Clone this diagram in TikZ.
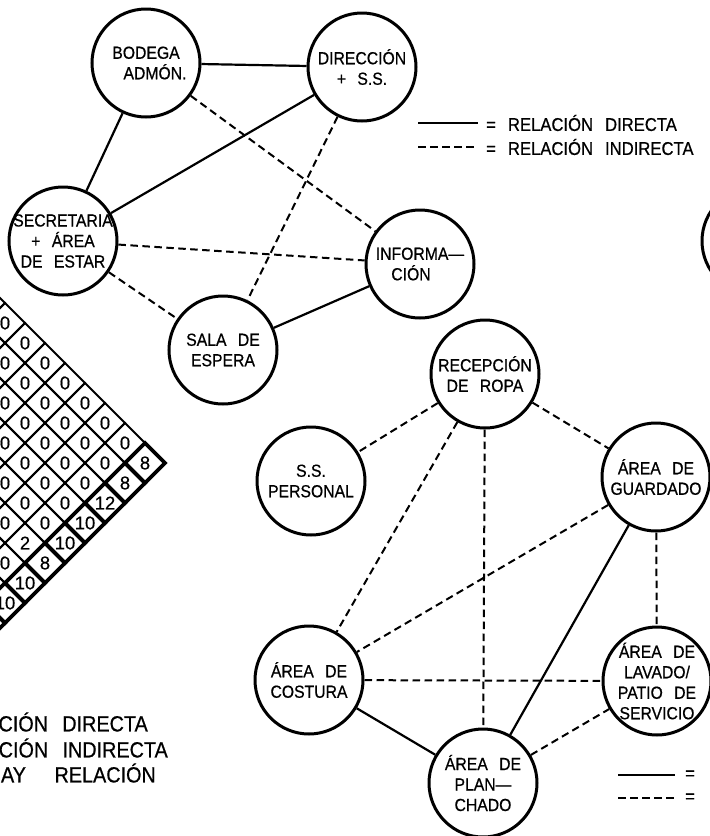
\documentclass[tikz,border=0pt]{standalone}
\usepackage{fontspec}
\setmainfont{Liberation Sans}[FakeStretch=0.9,WordSpace=2.6,FakeBold=0.6]
\newfontfamily\numfont{Liberation Sans}[FakeBold=0.4]
\usetikzlibrary{positioning}
\tikzset{
  % room circle, the name sits in a label so the circle keeps its size
  room/.style={circle, draw, line width=3pt, minimum size=108pt, inner sep=0pt,
               label={[roomtext]center:{#1}}},
  room/.default={},
  % room name
  roomtext/.style={align=center, inner sep=0pt, font=\fontsize{17.5}{20.5}\selectfont},
  % direct relation
  direct/.style={line width=2.2pt},
  % indirect relation
  indirect/.style={line width=2pt, dash pattern=on 7.5pt off 4.5pt},
  % legend text
  keytext/.style={inner sep=0pt, font=\fontsize{18.5}{20}\selectfont},
  bigkeytext/.style={inner sep=0pt, font=\fontsize{22}{24}\selectfont},
  % matrix cells
  cell/.style={line width=1.9pt},
  sumcell/.style={line width=3.6pt},
  cellnum/.style={inner sep=0pt, font=\numfont\fontsize{18.5}{18.5}\selectfont},
}

\begin{document}
\begin{tikzpicture}[x=1pt, y=-1pt]
  \useasboundingbox (0,0) rectangle (710,836);
  \clip (0,0) rectangle (710,836);

  % administration group
  \node[room={BODEGA\\\hspace*{18pt}ADMÓN.}] (bodega) at (146,63) {};
  \node[room={DIRECCIÓN\\+ S.S.}] (direccion) at (362,67) {};
  \node[room={SECRETARIA\\+ ÁREA\\DE ESTAR}] (secretaria) at (63,241) {};
  \node[room={INFORMA---\\CIÓN\hspace*{18pt}}] (informacion) at (420,264) {};
  \node[room={SALA DE\\ESPERA}] (sala) at (223,350) {};
  \node[room] (otro) at (756,241) {};

  \draw[direct] (bodega) -- (direccion);
  \draw[direct] (bodega) -- (secretaria);
  \draw[direct] (direccion) -- (secretaria);
  \draw[direct] (sala) -- (informacion);
  \draw[indirect] (bodega) -- (informacion);
  \draw[indirect] (direccion) -- (sala);
  \draw[indirect] (secretaria) -- (informacion);
  \draw[indirect] (secretaria) -- (sala);

  % key, top
  \coordinate (keyA) at (418,123);
  \coordinate (keyB) at (478,123);
  \coordinate (keyC) at (418,147);
  \coordinate (keyD) at (478,147);
  \draw[direct] (keyA) -- (keyB);
  \draw[indirect] (keyC) -- (keyD);
  \node[keytext, right=8pt of keyB] (keydirecta) {= RELACIÓN DIRECTA};
  \node[keytext, right=8pt of keyD] (keyindirecta) {= RELACIÓN INDIRECTA};

  % laundry group
  \node[room={RECEPCIÓN\\DE ROPA}] (recepcion) at (485,374) {};
  \node[room={S.S.\\PERSONAL}] (personal) at (311,481) {};
  \node[room={ÁREA DE\\GUARDADO}] (guardado) at (656,477) {};
  \node[room={ÁREA DE\\COSTURA}] (costura) at (309,680) {};
  \node[room={ÁREA DE\\LAVADO/\\PATIO DE\\SERVICIO}] (lavado) at (657,681) {};
  \node[room={ÁREA DE\\PLAN---\\CHADO}] (planchado) at (483,783) {};

  \draw[direct] (guardado) -- (planchado);
  \draw[direct] (costura) -- (planchado);
  \draw[indirect] (recepcion) -- (personal);
  \draw[indirect] (recepcion) -- (guardado);
  \draw[indirect] (recepcion) -- (costura);
  \draw[indirect] (recepcion) -- (planchado);
  \draw[indirect] (guardado) -- (costura);
  \draw[indirect] (guardado) -- (lavado);
  \draw[indirect] (costura) -- (lavado);
  \draw[indirect] (planchado) -- (lavado);

  % key, bottom right
  \coordinate (keyE) at (618,775);
  \coordinate (keyF) at (675,775);
  \coordinate (keyG) at (618,798);
  \coordinate (keyH) at (675,798);
  \draw[direct] (keyE) -- (keyF);
  \draw[indirect] (keyG) -- (keyH);
  \node[keytext, right=10pt of keyF] (keyeq1) {=};
  \node[keytext, right=10pt of keyH] (keyeq2) {=};

  % key, bottom left
  \node[bigkeytext, anchor=east] (keyrd) at (148,722) {CIÓN DIRECTA};
  \node[bigkeytext, anchor=east] (keyri) at (168,748) {CIÓN INDIRECTA};
  \node[bigkeytext, anchor=east] (keynr) at (156,773) {AY~ RELACIÓN};

  % relation matrix
  \foreach \s in {1,...,8}{
    \pgfmathtruncatemacro{\last}{\s-1}
    \foreach \a in {0,...,\last}{
      \pgfmathsetmacro{\cellx}{145-20*\s}
      \pgfmathsetmacro{\celly}{463+20*(2*\a-\s)}
      \draw[cell] (\cellx,\celly) +(0,-20) -- +(20,0) -- +(0,20) -- +(-20,0) -- cycle;
      \ifnum\s<8
        \pgfmathtruncatemacro{\val}{(\s==6 && \a==5) ? 2 : 0}
        \node[cellnum] at (\cellx,\celly) {\val};
      \fi
    }
  }
  \foreach \a in {0,...,8}{
    \pgfmathsetmacro{\cellx}{145-20*\a}
    \pgfmathsetmacro{\celly}{463+20*\a}
    \draw[sumcell] (\cellx,\celly) +(0,-20) -- +(20,0) -- +(0,20) -- +(-20,0) -- cycle;
  }
  \foreach \v [count=\i from 0] in {8,8,12,10,10,8,10,10}{
    \node[cellnum] at (145-20*\i,463+20*\i) {\v};
  }
\end{tikzpicture}
\end{document}
